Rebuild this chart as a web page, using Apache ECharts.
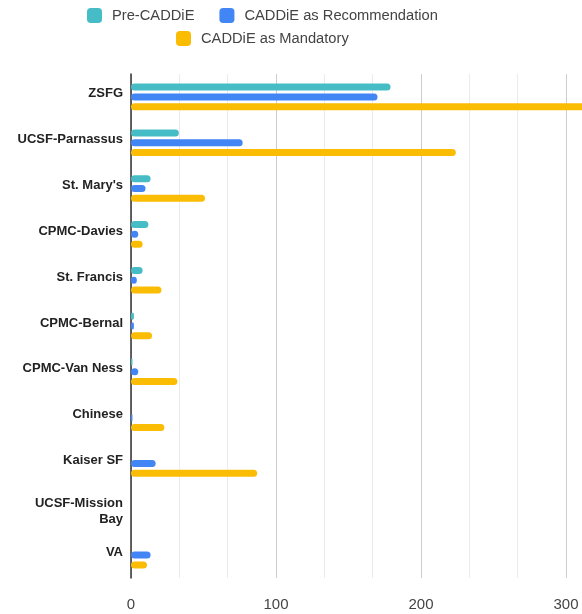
<!DOCTYPE html>
<html><head><meta charset="utf-8">
<script src="https://cdn.jsdelivr.net/npm/echarts@6/dist/echarts.min.js"></script>
<style>html,body{margin:0;padding:0;background:#fff}#c{width:582px;height:614px}</style>
</head><body><div id="c"></div>
<script>
const categories = ['ZSFG','UCSF-Parnassus',"St. Mary's",'CPMC-Davies','St. Francis','CPMC-Bernal','CPMC-Van Ness','Chinese','Kaiser SF','UCSF-Mission\nBay','VA'];
const preCaddie = [179, 33, 13.5, 12, 8, 2, 1, 0, 0, 0, 0];
const caddieRecommendation = [170, 77, 10, 5, 4, 2, 5, 1, 17, 0, 13.5];
const caddieMandatory = [330, 224, 51, 8, 21, 14.5, 32, 23, 87, 0, 11];
const seriesNames = ['Pre-CADDiE','CADDiE as Recommendation','CADDiE as Mandatory'];
const colors = ['#46bdc6','#4285f4','#fbbc04'];
const xTicks = [0, 100, 200, 300];

const font = 'Arial, "Liberation Sans", sans-serif';
const chart = echarts.init(document.getElementById('c'), null, {renderer:'canvas'});
const mk = (name, data, i) => ({
  name, type:'bar', data, barWidth:7, barGap:'40%', clip:false,
  itemStyle:{color:colors[i], borderRadius:3.5}
});
const legendText = {fontSize:14.7, color:'#444', fontFamily:font, padding:[0,0,0,5]};
chart.setOption({
  animation:false,
  textStyle:{fontFamily:font},
  legend:[{
    data:[seriesNames[0], seriesNames[1]], top:3, left:82,
    icon:'roundRect', itemWidth:15, itemHeight:15, itemGap:25,
    textStyle:legendText
  },{
    data:[seriesNames[2]], top:26, left:171,
    icon:'roundRect', itemWidth:15, itemHeight:15,
    textStyle:legendText
  }],
  grid:{left:131, right:16, top:74, bottom:36, containLabel:false},
  xAxis:{
    type:'value', min:xTicks[0], max:xTicks[xTicks.length-1], interval:100,
    axisLine:{show:false}, axisTick:{show:false},
    axisLabel:{fontSize:15, color:'#444', margin:19, fontFamily:font},
    splitLine:{show:true, lineStyle:{color:'#cccccc', width:1}},
    minorTick:{show:false, splitNumber:3},
    minorSplitLine:{show:true, lineStyle:{color:'#ebebeb', width:1}}
  },
  yAxis:{
    type:'category', data:categories, inverse:true,
    axisLine:{show:true, lineStyle:{color:'#333', width:1.5}},
    axisTick:{show:false},
    axisLabel:{
      margin:8, align:'right',
      formatter: v => v.indexOf('\n') >= 0
        ? v.split('\n').map(s => '{b|' + s + '}').join('\n')
        : '{a|' + v + '}',
      rich:{
        a:{fontSize:13, fontWeight:'bold', color:'#222', fontFamily:font, padding:[0,0,6,0]},
        b:{fontSize:13, fontWeight:'bold', color:'#222', fontFamily:font, lineHeight:16, padding:[5,0,0,0]}
      }
    }
  },
  series:[mk(seriesNames[0], preCaddie, 0), mk(seriesNames[1], caddieRecommendation, 1), mk(seriesNames[2], caddieMandatory, 2)]
});
</script></body></html>
